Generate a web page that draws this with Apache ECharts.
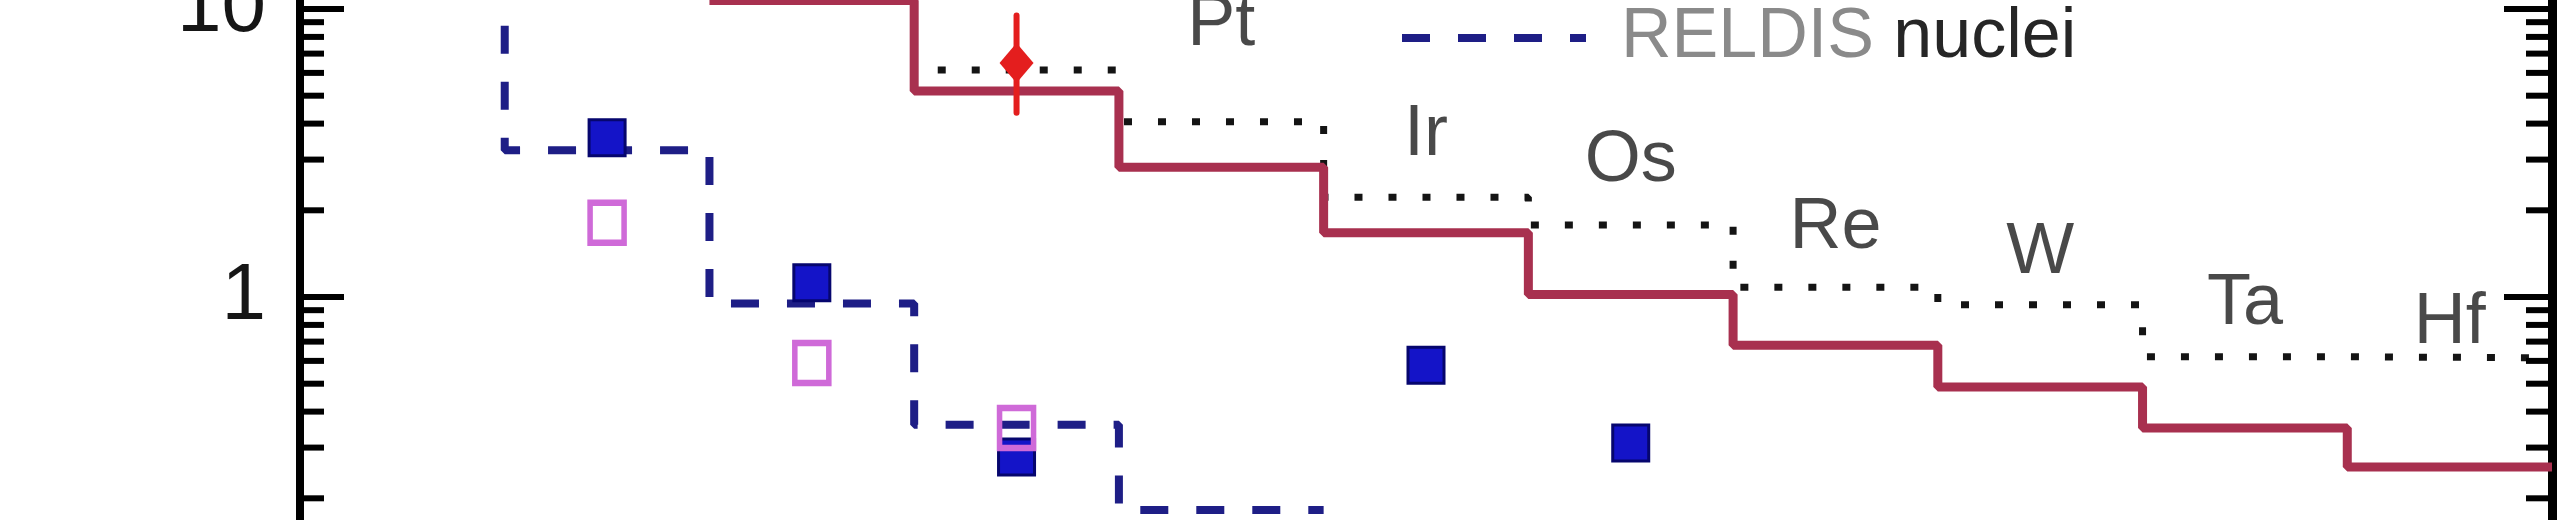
<!DOCTYPE html>
<html>
<head>
<meta charset="utf-8">
<script src="https://cdn.jsdelivr.net/npm/echarts@6/dist/echarts.min.js"></script>
<style>
  html, body { margin: 0; padding: 0; background: #ffffff; }
  #chart { width: 2560px; height: 520px; }
</style>
</head>
<body>
<div id="chart"></div>
<script>
// ---- data ----
const elements = ['Pb', 'Tl', 'Hg', 'Au', 'Pt', 'Ir', 'Os', 'Re', 'W', 'Ta', 'Hf'];
const charges  = [82, 81, 80, 79, 78, 77, 76, 75, 74, 73, 72];

// RELDIS nuclei (blue dashed histogram)
const reldisNuclei = [25, 3.23, 0.95, 0.36, 0.182, null, null, null, null, null, null];
// solid red histogram
const redHistogram = [null, null, 10.7, 5.19, 2.82, 1.67, 1.02, 0.68, 0.487, 0.351, 0.257];
// dotted black histogram
const dottedHistogram = [null, null, 15, 6.14, 4.06, 2.22, 1.78, 1.08, 0.94, 0.62, 0.615];
// blue square data points
const blueSquares = [null, 3.57, 1.12, 0.278, null, 0.58, 0.311, null, null, null, null];
// magenta open data points
const magentaPoints = [null, 1.81, 0.59, 0.351, null, null, null, null, null, null, null];
// red diamond with error bar
const redPointZ = [79];
const redPointValue = [6.5];
const redPointLow = [4.36];
const redPointHigh = [9.5];

// element name annotations and their heights (data units)
const labelElements = ['Pt', 'Ir', 'Os', 'Re', 'W', 'Ta', 'Hf'];
const labelHeights = [8.8, 3.65, 2.97, 1.74, 1.42, 0.946, 0.812];

// y axis range and minor ticks
const yMin = 0.1, yMax = 100;
const minorTickValues = [0.2, 0.3, 0.4, 0.5, 0.6, 0.7, 0.8, 0.9,
                         2, 3, 4, 5, 6, 7, 8, 9,
                         20, 30, 40, 50, 60, 70, 80, 90];
const legendName = 'RELDIS nuclei';

// ---- helpers ----
const xLow = Math.min(...charges) - 0.5;   // right edge (axis is inverted)
const xHigh = Math.max(...charges) + 0.5;  // left edge

function stepData(vals) {
  const out = [];
  let last = -1;
  vals.forEach((v, i) => {
    if (v != null) { out.push([charges[i] + 0.5, v]); last = i; }
  });
  if (last >= 0) out.push([charges[last] - 0.5, vals[last]]);
  return out;
}
function pointData(vals) {
  const out = [];
  vals.forEach((v, i) => { if (v != null) out.push([charges[i], v]); });
  return out;
}

const FONT = "'Liberation Sans', Arial, Helvetica, sans-serif";
const chart = echarts.init(document.getElementById('chart'), null, { renderer: 'canvas' });

const option = {
  backgroundColor: '#ffffff',
  animation: false,
  grid: { left: 300, right: 8, top: -279, bottom: -65, containLabel: false, outerBoundsMode: 'none' },
  legend: {
    data: [legendName],
    left: 1398,
    top: 2,
    padding: 0,
    itemWidth: 184,
    itemHeight: 2,
    selectedMode: false,
    lineStyle: { width: 8 },
    itemStyle: { opacity: 0 },
    formatter: '{a|RELDIS} {b|nuclei}',
    textStyle: {
      fontFamily: FONT,
      fontSize: 70,
      lineHeight: 72,
      padding: [0, 0, 0, 30],
      rich: {
        a: { fontFamily: FONT, fontSize: 70, lineHeight: 72, color: '#8a8a8a' },
        b: { fontFamily: FONT, fontSize: 70, lineHeight: 72, color: '#262626' }
      }
    }
  },
  xAxis: {
    type: 'value',
    min: xLow,
    max: xHigh,
    inverse: true,
    axisLine: { show: true, lineStyle: { color: '#000', width: 8 } },
    axisTick: { show: false },
    axisLabel: { show: false },
    splitLine: { show: false }
  },
  yAxis: [
    {
      type: 'log',
      logBase: 10,
      min: yMin,
      max: yMax,
      position: 'left',
      axisLine: { show: true, lineStyle: { color: '#000', width: 8 } },
      axisTick: { show: true, inside: true, length: 44, lineStyle: { color: '#000', width: 6 } },
      axisLabel: {
        show: true, margin: 34, fontFamily: FONT, fontSize: 80, color: '#161616',
        padding: [16, 0, 0, 0],
        formatter: v => String(v)
      },
      splitLine: { show: false }
    },
    {
      type: 'log',
      logBase: 10,
      min: yMin,
      max: yMax,
      position: 'right',
      axisLine: { show: true, lineStyle: { color: '#000', width: 9 } },
      axisTick: { show: true, inside: true, length: 48, lineStyle: { color: '#000', width: 6 } },
      axisLabel: { show: false },
      splitLine: { show: false }
    }
  ],
  series: [
    {
      name: 'dotted',
      type: 'line',
      step: 'end',
      symbol: 'none',
      data: stepData(dottedHistogram),
      lineStyle: { color: '#141414', width: 7, type: [8, 26] },
      z: 3
    },
    {
      name: 'red',
      type: 'line',
      step: 'end',
      symbol: 'none',
      data: stepData(redHistogram),
      lineStyle: { color: '#a8304f', width: 9 },
      z: 4
    },
    {
      name: legendName,
      type: 'line',
      step: 'end',
      symbol: 'none',
      data: stepData(reldisNuclei),
      itemStyle: { color: '#1e1e86' },
      lineStyle: { color: '#1e1e86', width: 8, type: [28, 28] },
      z: 4
    },
    {
      name: 'blue squares',
      type: 'scatter',
      symbol: 'rect',
      symbolSize: 36,
      data: pointData(blueSquares),
      itemStyle: { color: '#1414c8', borderColor: '#06066e', borderWidth: 3, opacity: 1 },
      z: 6
    },
    {
      name: 'magenta points',
      type: 'scatter',
      symbol: 'rect',
      symbolSize: [34, 40],
      data: pointData(magentaPoints),
      itemStyle: { color: 'rgba(255,255,255,0)', borderColor: '#cf6ad8', borderWidth: 6, opacity: 1 },
      z: 7
    },
    {
      name: 'error bar',
      type: 'custom',
      data: redPointZ.map((z, i) => [z, redPointLow[i], redPointHigh[i]]),
      encode: { x: 0, y: [1, 2] },
      renderItem: (params, api) => {
        const a = api.coord([api.value(0), api.value(1)]);
        const b = api.coord([api.value(0), api.value(2)]);
        return {
          type: 'line',
          shape: { x1: a[0], y1: a[1], x2: b[0], y2: b[1] },
          style: { stroke: '#e41e1e', lineWidth: 6, lineCap: 'round' }
        };
      },
      z: 8
    },
    {
      name: 'red point',
      type: 'scatter',
      symbol: 'diamond',
      symbolSize: [34, 40],
      data: redPointZ.map((z, i) => [z, redPointValue[i]]),
      itemStyle: { color: '#e41e1e', opacity: 1 },
      z: 9
    },
    {
      name: 'element labels',
      type: 'scatter',
      symbolSize: 0,
      silent: true,
      data: labelElements.map((el, i) => ({
        name: el,
        value: [charges[elements.indexOf(el)], labelHeights[i]]
      })),
      label: {
        show: true,
        position: 'inside',
        formatter: '{b}',
        fontFamily: FONT,
        fontSize: 72,
        color: '#1c1c1c'
      },
      z: 5
    },
    {
      name: 'minor ticks',
      type: 'custom',
      silent: true,
      data: minorTickValues.map(v => [xHigh, v]),
      encode: { x: 0, y: 1 },
      renderItem: (params, api) => {
        const v = api.value(1);
        const L = api.coord([xHigh, v]);
        const R = api.coord([xLow, v]);
        return {
          type: 'group',
          children: [
            { type: 'line', shape: { x1: L[0], y1: L[1], x2: L[0] + 24, y2: L[1] },
              style: { stroke: '#000', lineWidth: 6 } },
            { type: 'line', shape: { x1: R[0], y1: R[1], x2: R[0] - 26, y2: R[1] },
              style: { stroke: '#000', lineWidth: 6 } }
          ]
        };
      },
      z: 10
    }
  ]
};

chart.setOption(option);
</script>
</body>
</html>
